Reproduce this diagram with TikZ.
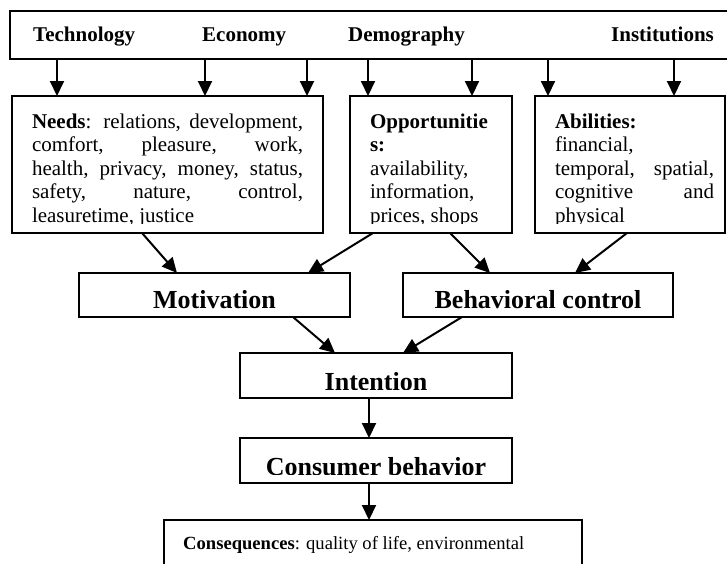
\documentclass[tikz,border=0pt]{standalone}
\usepackage{fontspec}
\setmainfont{Liberation Serif}
\usetikzlibrary{arrows.meta}
\hyphenpenalty=10000
\exhyphenpenalty=10000
\begin{document}
\begin{tikzpicture}[x=1pt,y=-1pt,
  box/.style={draw, line width=1.6pt, inner sep=0pt, outer sep=0pt, anchor=north west},
  arr/.style={line width=2pt, -{Triangle[length=15pt,width=14pt]}},
  body/.style={anchor=base west, inner sep=0pt, outer sep=0pt, font=\fontsize{21}{23.5}\selectfont, align=justify},
  head/.style={anchor=base west, inner sep=0pt, font=\fontsize{21}{24}\selectfont\bfseries},
  big/.style={anchor=base, inner sep=0pt, font=\fontsize{26}{30}\selectfont\bfseries}]
\useasboundingbox (0,0) rectangle (727,563);

% boxes
\node[box, minimum width=740pt, minimum height=48pt] (top) at (10,11) {};
\node[box, minimum width=311pt, minimum height=137pt] (needs) at (12,96) {};
\node[box, minimum width=162pt, minimum height=137pt] (opp) at (350,96) {};
\node[box, minimum width=190pt, minimum height=137pt] (abil) at (535,96) {};
\node[box, minimum width=271pt, minimum height=44pt] (mot) at (79,273) {};
\node[box, minimum width=270pt, minimum height=44pt] (bc) at (403,273) {};
\node[box, minimum width=272pt, minimum height=45pt] (int) at (240,353) {};
\node[box, minimum width=272pt, minimum height=45pt] (cb) at (240,438) {};
\node[box, minimum width=418pt, minimum height=80pt] (cons) at (164,520) {};

% top labels
\node[head] (tech) at (33,41) {Technology};
\node[head] (econ) at (202,41) {Economy};
\node[head] (demo) at (348,41) {Demography};
\node[head] (inst) at (611,41) {Institutions};

% box texts (clipped as in the reference)
\begin{scope}
  \clip (12,96) rectangle (323,223.5);
  \node[body, text width=271pt] (needstext) at (32,128) {\textbf{Needs}: relations, development,\linebreak comfort, pleasure, work,\linebreak health, privacy, money, status,\linebreak safety, nature, control,\linebreak leasuretime, justice};
\end{scope}
\begin{scope}
  \clip (350,96) rectangle (512,223.5);
  \node[body, text width=125pt] (opptext) at (370,128) {\textbf{Opportunitie}\\ \textbf{s:}\\ availability,\\ information,\\ prices, shops};
\end{scope}
\begin{scope}
  \clip (535,96) rectangle (725,223.5);
  \node[body, text width=159pt] (abiltext) at (555,128) {\textbf{Abilities:}\\ financial,\\ temporal, spatial,\linebreak cognitive and\linebreak physical};
\end{scope}
\begin{scope}
  \clip (79,273) rectangle (350,308);
  \node[big] (mottext) at (214.5,308.5) {Motivation};
\end{scope}
\begin{scope}
  \clip (403,273) rectangle (673,308);
  \node[big] (bctext) at (538,308.5) {Behavioral control};
\end{scope}
\begin{scope}
  \clip (240,353) rectangle (512,389);
  \node[big] (inttext) at (376,390) {Intention};
\end{scope}
\begin{scope}
  \clip (240,438) rectangle (512,474);
  \node[big] (cbtext) at (376,475.5) {Consumer behavior};
\end{scope}
\node[anchor=base west, inner sep=0pt, font=\fontsize{18.6}{22}\selectfont] (constext) at (183,549) {\textbf{Consequences}: quality of life, environmental};

% arrows from the top box
\draw[arr] (57,0 |- top.south) -- (57,0 |- needs.north);
\draw[arr] (205,0 |- top.south) -- (205,0 |- needs.north);
\draw[arr] (307,0 |- top.south) -- (307,0 |- needs.north);
\draw[arr] (368,0 |- top.south) -- (368,0 |- opp.north);
\draw[arr] (472,0 |- top.south) -- (472,0 |- opp.north);
\draw[arr] (548,0 |- top.south) -- (548,0 |- abil.north);
\draw[arr] (674,0 |- top.south) -- (674,0 |- abil.north);

% diagonal arrows
\draw[arr] (142,0 |- needs.south) -- (177,0 |- mot.north);
\draw[arr] (373,0 |- opp.south) -- (308,0 |- mot.north);
\draw[arr] (450,0 |- opp.south) -- (490,0 |- bc.north);
\draw[arr] (627,0 |- abil.south) -- (575,0 |- bc.north);
\draw[arr] (293,0 |- mot.south) -- (335,0 |- int.north);
\draw[arr] (462,0 |- bc.south) -- (403,0 |- int.north);

% vertical arrows
\draw[arr] (369,0 |- int.south) -- (369,0 |- cb.north);
\draw[arr] (369,0 |- cb.south) -- (369,0 |- cons.north);
\end{tikzpicture}
\end{document}
